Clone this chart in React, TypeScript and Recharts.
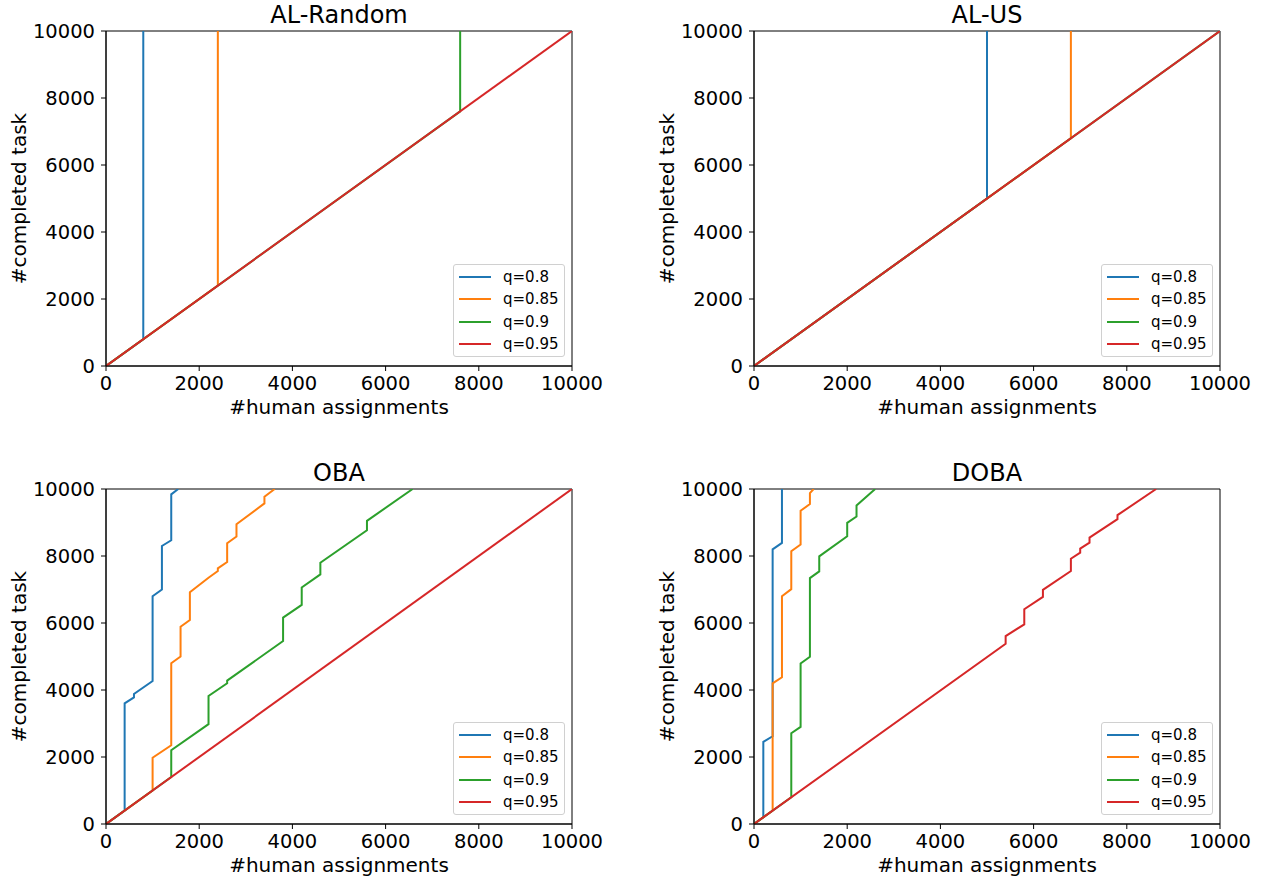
import { LineChart, Line, XAxis, YAxis, ReferenceArea } from "recharts";

type Pt = [number, number];

const FONT = '"DejaVu Sans", sans-serif';
const COLORS = ["#1f77b4", "#ff7f0e", "#2ca02c", "#d62728"];
const qLabels = ["q=0.8", "q=0.85", "q=0.9", "q=0.95"];
const xTicks = [0, 2000, 4000, 6000, 8000, 10000];
const yTicks = [0, 2000, 4000, 6000, 8000, 10000];

// AL-Random
const alRandomQ80: Pt[] = [[0, 0], [800, 800], [800, 10000]];
const alRandomQ85: Pt[] = [[0, 0], [2400, 2400], [2400, 10000]];
const alRandomQ90: Pt[] = [[0, 0], [7600, 7600], [7600, 10000]];
const alRandomQ95: Pt[] = [[0, 0], [10000, 10000]];

// AL-US
const alUsQ80: Pt[] = [[0, 0], [5000, 5000], [5000, 10000]];
const alUsQ85: Pt[] = [[0, 0], [6800, 6800], [6800, 10000]];
const alUsQ90: Pt[] = [[0, 0], [10000, 10000]];
const alUsQ95: Pt[] = [[0, 0], [10000, 10000]];

// OBA
const obaQ80: Pt[] = [
  [0, 0], [400, 400], [400, 3600], [600, 3780], [600, 3880], [1000, 4270],
  [1000, 6800], [1200, 7000], [1200, 8300], [1400, 8470], [1400, 9840], [1550, 10000],
];
const obaQ85: Pt[] = [
  [0, 0], [1000, 1000], [1000, 1980], [1400, 2350], [1400, 4800], [1600, 5000],
  [1600, 5890], [1800, 6090], [1800, 6920], [2200, 7350], [2400, 7550], [2400, 7630],
  [2600, 7820], [2600, 8380], [2800, 8580], [2800, 8950], [3400, 9570], [3400, 9770],
  [3620, 10000],
];
const obaQ90: Pt[] = [
  [0, 0], [1400, 1400], [1400, 2200], [2200, 2980], [2200, 3820], [2600, 4200],
  [2600, 4280], [3800, 5460], [3800, 6160], [4200, 6540], [4200, 7060], [4600, 7450],
  [4600, 7800], [5600, 8770], [5600, 9050], [6580, 10000],
];
const obaQ95: Pt[] = [[0, 0], [10000, 10000]];

// DOBA
const dobaQ80: Pt[] = [
  [0, 0], [200, 200], [200, 2450], [400, 2620], [400, 8200], [600, 8390], [600, 10000],
];
const dobaQ85: Pt[] = [
  [0, 0], [400, 400], [400, 4200], [600, 4380], [600, 6800], [800, 7010], [800, 8140],
  [1000, 8340], [1000, 9350], [1200, 9550], [1200, 9880], [1280, 10000],
];
const dobaQ90: Pt[] = [
  [0, 0], [800, 800], [800, 2710], [1000, 2900], [1000, 4790], [1200, 4990],
  [1200, 7340], [1400, 7540], [1400, 7990], [2000, 8590], [2000, 8990], [2200, 9180],
  [2200, 9510], [2600, 10000],
];
const dobaQ95: Pt[] = [
  [0, 0], [5400, 5380], [5400, 5610], [5800, 5960], [5800, 6410], [6200, 6780],
  [6200, 6990], [6800, 7550], [6800, 7920], [7000, 8100], [7000, 8220], [7200, 8400],
  [7200, 8550], [7800, 9100], [7800, 9220], [8630, 10000],
];

const toRows = (pts: Pt[]) => pts.map(([x, y]) => ({ x, y }));

const CHART_W = 632;
const CHART_H = 440;
const PLOT_LEFT = 106;
const PLOT_TOP = 31;
const PLOT_W = 466;
const PLOT_H = 335;

function Legend() {
  return (
    <div
      style={{
        position: "absolute",
        left: PLOT_LEFT + 347,
        top: PLOT_TOP + 233,
        width: 110,
        height: 91,
        border: "1px solid #d0d0d0",
        borderRadius: 3,
        background: "rgba(255,255,255,0.8)",
        fontFamily: FONT,
        fontSize: 15,
        color: "#000",
      }}
    >
      {qLabels.map((q, i) => (
        <div
          key={q}
          style={{ position: "absolute", left: 0, top: 1 + i * 22.3, height: 22, display: "flex", alignItems: "center" }}
        >
          <div style={{ marginLeft: 5, width: 32, height: 2, background: COLORS[i] }} />
          <span style={{ marginLeft: 12 }}>{q}</span>
        </div>
      ))}
    </div>
  );
}

function Panel({ title, series, left, top }: { title: string; series: Pt[][]; left: number; top: number }) {
  return (
    <div style={{ position: "absolute", left, top, width: CHART_W, height: CHART_H }}>
      <div
        style={{
          position: "absolute",
          left: PLOT_LEFT,
          width: PLOT_W,
          top: 0,
          textAlign: "center",
          fontFamily: FONT,
          fontSize: 24,
          lineHeight: "30px",
          color: "#000",
        }}
      >
        {title}
      </div>
      <LineChart width={CHART_W} height={CHART_H} margin={{ top: PLOT_TOP, right: CHART_W - PLOT_LEFT - PLOT_W, bottom: CHART_H - PLOT_TOP - PLOT_H - 60, left: 5 }}>
        <XAxis
          dataKey="x"
          type="number"
          domain={[0, 10000]}
          ticks={xTicks}
          interval={0}
          allowDataOverflow
          height={60}
          tickSize={5}
          tickMargin={5}
          stroke="#000"
          tick={{ fill: "#000", fontSize: 19.5, fontFamily: FONT }}
          label={{ value: "#human assignments", position: "insideBottom", offset: 12, fill: "#000", fontSize: 20, fontFamily: FONT }}
        />
        <YAxis
          type="number"
          domain={[0, 10000]}
          ticks={yTicks}
          interval={0}
          allowDataOverflow
          width={PLOT_LEFT - 5}
          tickSize={5}
          tickMargin={6}
          stroke="#000"
          tick={{ fill: "#000", fontSize: 19.5, fontFamily: FONT }}
          label={{
            value: "#completed task",
            angle: -90,
            position: "insideLeft",
            offset: 14,
            fill: "#000",
            fontSize: 20,
            fontFamily: FONT,
            style: { textAnchor: "middle" },
          }}
        />
        <ReferenceArea x1={0} x2={10000} y1={0} y2={10000} fill="none" stroke="#000" strokeWidth={1} strokeOpacity={1} fillOpacity={0} />
        {series.map((s, i) => (
          <Line
            key={i}
            data={toRows(s)}
            dataKey="y"
            type="linear"
            stroke={COLORS[i]}
            strokeWidth={2}
            dot={false}
            activeDot={false}
            isAnimationActive={false}
          />
        ))}
      </LineChart>
      <Legend />
    </div>
  );
}

export default function App() {
  return (
    <div style={{ position: "absolute", left: 0, top: 0, width: 1265, height: 881, background: "#fff" }}>
      <Panel title="AL-Random" series={[alRandomQ80, alRandomQ85, alRandomQ90, alRandomQ95]} left={0} top={0} />
      <Panel title="AL-US" series={[alUsQ80, alUsQ85, alUsQ90, alUsQ95]} left={648} top={0} />
      <Panel title="OBA" series={[obaQ80, obaQ85, obaQ90, obaQ95]} left={0} top={458} />
      <Panel title="DOBA" series={[dobaQ80, dobaQ85, dobaQ90, dobaQ95]} left={648} top={458} />
    </div>
  );
}
